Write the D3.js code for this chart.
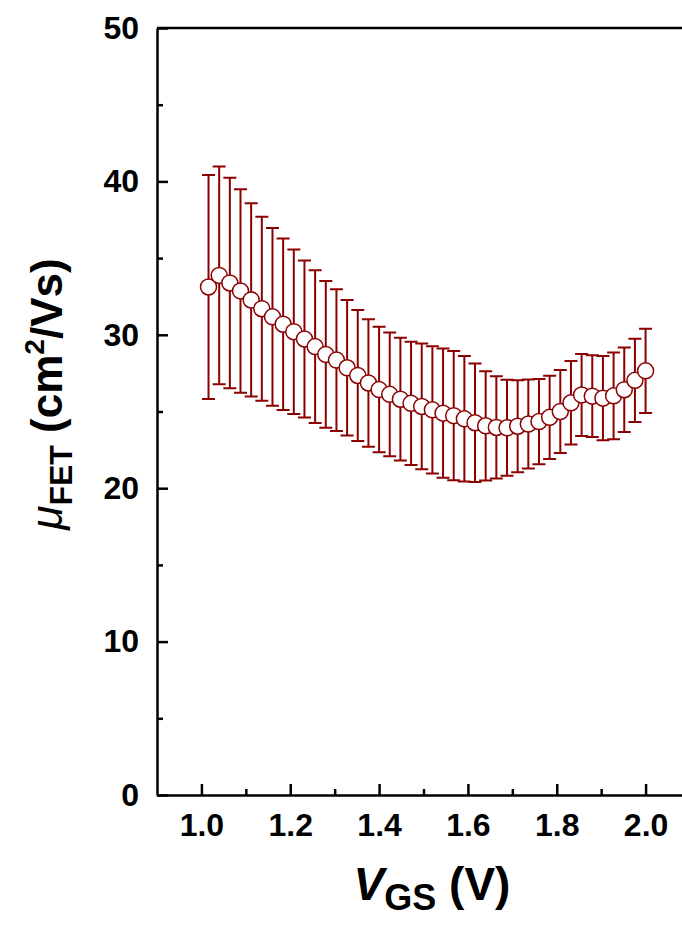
<!DOCTYPE html>
<html>
<head>
<meta charset="utf-8">
<script src="https://cdn.jsdelivr.net/npm/d3@7"></script>
<style>
  html, body { margin: 0; padding: 0; background: #fff; }
  svg { display: block; }
  .tick text { font-family: "Liberation Sans", Arial, sans-serif; font-weight: bold; font-size: 32px; fill: #000; }
</style>
</head>
<body>
<svg id="chart" width="682" height="925"></svg>
<script>
// Gate voltage sweep (V)
const vgs = [1.016, 1.040, 1.064, 1.088, 1.112, 1.136, 1.160, 1.184, 1.208, 1.232,
             1.256, 1.280, 1.304, 1.328, 1.352, 1.376, 1.400, 1.424, 1.448, 1.472,
             1.496, 1.520, 1.544, 1.568, 1.592, 1.616, 1.640, 1.664, 1.688, 1.712,
             1.736, 1.760, 1.784, 1.808, 1.832, 1.856, 1.880, 1.904, 1.928, 1.952,
             1.976, 2.000];
// Mean field-effect mobility (cm^2/Vs)
const mobility = [33.12, 33.87, 33.38, 32.86, 32.27, 31.70, 31.17, 30.69, 30.20, 29.73,
                  29.23, 28.72, 28.35, 27.85, 27.35, 26.86, 26.43, 26.12, 25.80, 25.53,
                  25.33, 25.11, 24.89, 24.73, 24.52, 24.27, 24.07, 23.96, 23.94, 24.04,
                  24.18, 24.34, 24.62, 25.00, 25.57, 26.08, 26.00, 25.87, 26.02, 26.42,
                  27.03, 27.65];
// Standard deviation (cm^2/Vs)
const stdev = [7.30, 7.10, 6.86, 6.63, 6.30, 6.00, 5.80, 5.59, 5.36, 5.12,
               4.98, 4.78, 4.62, 4.42, 4.27, 4.16, 4.09, 4.03, 4.00, 4.02,
               4.10, 4.15, 4.21, 4.21, 4.09, 3.86, 3.56, 3.33, 3.13, 3.00,
               2.90, 2.78, 2.71, 2.70, 2.72, 2.67, 2.66, 2.75, 2.83, 2.76,
               2.72, 2.75];

const xMajor = [1.0, 1.2, 1.4, 1.6, 1.8, 2.0];
const xMinor = [1.1, 1.3, 1.5, 1.7, 1.9];
const yMajor = [0, 10, 20, 30, 40, 50];
const yMinor = [5, 15, 25, 35, 45];

const color = "#8b0000";
const svg = d3.select("#chart");

const x = d3.scaleLinear().domain([0.9, 2.1]).range([157, 690]);
const y = d3.scaleLinear().domain([0, 50]).range([795, 28]);

const pts = vgs.map((v, i) => ({ v, m: mobility[i], e: stdev[i] }));

// frame (top and right edges)
svg.append("path")
  .attr("d", `M${x.range()[0]},${y(50)}H${x.range()[1]}V${y(0)}`)
  .attr("fill", "none").attr("stroke", "#000").attr("stroke-width", 2.5);

// bottom axis, ticks pointing inward
const gx = svg.append("g").attr("transform", `translate(0,${y(0)})`);
gx.call(d3.axisBottom(x).tickValues(xMajor).tickFormat(d3.format(".1f"))
  .tickSizeInner(-11).tickSizeOuter(0).tickPadding(18));
const gxm = svg.append("g").attr("transform", `translate(0,${y(0)})`);
gxm.call(d3.axisBottom(x).tickValues(xMinor).tickFormat("")
  .tickSizeInner(-6).tickSizeOuter(0));
gxm.select(".domain").remove();

// left axis
const gy = svg.append("g").attr("transform", `translate(${x.range()[0]},0)`);
gy.call(d3.axisLeft(y).tickValues(yMajor).tickFormat(d3.format("d"))
  .tickSizeInner(-11).tickSizeOuter(0).tickPadding(18));
const gym = svg.append("g").attr("transform", `translate(${x.range()[0]},0)`);
gym.call(d3.axisLeft(y).tickValues(yMinor).tickFormat("")
  .tickSizeInner(-6).tickSizeOuter(0));
gym.select(".domain").remove();

svg.selectAll(".domain").attr("stroke-width", 2.5).attr("stroke", "#000");
svg.selectAll(".tick line").attr("stroke-width", 2.5).attr("stroke", "#000");

// error bars
const eb = svg.append("g").attr("stroke", color).attr("stroke-width", 2).attr("fill", "none");
eb.selectAll("path").data(pts).join("path")
  .attr("d", d => {
    const cx = x(d.v), t = y(d.m + d.e), b = y(d.m - d.e), w = 6.5;
    return `M${cx},${t}V${b}M${cx - w},${t}H${cx + w}M${cx - w},${b}H${cx + w}`;
  });

// mean markers
svg.append("g").selectAll("circle").data(pts).join("circle")
  .attr("cx", d => x(d.v)).attr("cy", d => y(d.m)).attr("r", 8)
  .attr("fill", "#fff").attr("stroke", color).attr("stroke-width", 1.5);

// axis titles
const font = '"Liberation Sans", Arial, sans-serif';
const xt = svg.append("text")
  .attr("x", 432).attr("y", 900)
  .attr("text-anchor", "middle")
  .attr("font-family", font).attr("font-weight", "bold").attr("font-size", 46);
xt.append("tspan").attr("font-style", "italic").text("V");
xt.append("tspan").attr("font-size", 36).attr("dy", 10).text("GS");
xt.append("tspan").attr("dy", -10).text(" (V)");

const yt = svg.append("text")
  .attr("transform", "translate(62,394) rotate(-90)")
  .attr("text-anchor", "middle")
  .attr("font-family", font).attr("font-weight", "bold").attr("font-size", 44);
yt.append("tspan").attr("font-style", "italic").attr("font-weight", "normal").text("μ");
yt.append("tspan").attr("font-size", 32).attr("dy", 10).text("FET");
yt.append("tspan").attr("dy", -10).text(" (cm");
yt.append("tspan").attr("font-size", 28).attr("dy", -18).text("2");
yt.append("tspan").attr("dy", 18).text("/Vs)");
</script>
</body>
</html>
